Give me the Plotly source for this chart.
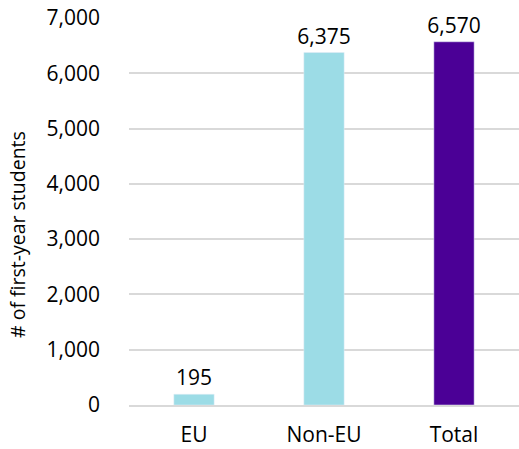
import plotly.graph_objects as go

categories = ["EU", "Non-EU", "Total"]
values = [195, 6375, 6570]
labels = ["195", "6,375", "6,570"]
colors = ["#9CDCE6", "#9CDCE6", "#4B0096"]
yticks = [0, 1000, 2000, 3000, 4000, 5000, 6000, 7000]
yticklabels = ["0", "1,000", "2,000", "3,000", "4,000", "5,000", "6,000", "7,000"]
ytitle = "# of first-year students"

font = "Open Sans, Noto Sans, Arial"

fig = go.Figure(go.Bar(
    x=categories, y=values, marker_color=colors, width=0.31,
    text=labels, textposition="outside", cliponaxis=False, constraintext="none",
    textfont=dict(size=21, color="#000000", family=font),
))
fig.update_layout(
    width=519, height=449, margin=dict(l=129, r=0, t=18, b=44),
    paper_bgcolor="white", plot_bgcolor="white", showlegend=False,
    font=dict(family=font, size=21, color="#000000"),
)
fig.add_annotation(
    text=ytitle, textangle=-90, showarrow=False,
    xref="paper", yref="paper", x=(18 - 129) / 390, y=(405 - 235) / 387,
    xanchor="center", yanchor="middle", font=dict(size=19.5),
)
fig.update_yaxes(
    range=[0, 7000], tickvals=yticks, ticktext=yticklabels,
    showgrid=True, gridcolor="#D9D9D9", gridwidth=1.5, zeroline=False,
    ticklabelstandoff=28,
)
fig.update_xaxes(
    showline=True, linecolor="#D9D9D9", linewidth=1.5,
    ticklabelstandoff=10,
)
fig.write_html("out.html")
